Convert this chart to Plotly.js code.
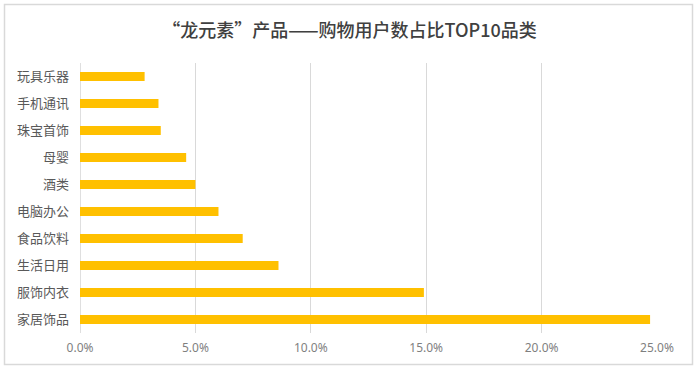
<!DOCTYPE html>
<html>
<head>
<meta charset="utf-8">
<script src="https://cdn.plot.ly/plotly-3.0.1.min.js"></script>
<style>
html,body{margin:0;padding:0;background:#fff;}
#chart{width:699px;height:370px;}
</style>
</head>
<body>
<div id="chart"></div>
<script>
const categories = ["家居饰品","服饰内衣","生活日用","食品饮料","电脑办公","酒类","母婴","珠宝首饰","手机通讯","玩具乐器"];
const shares = [0.247, 0.149, 0.086, 0.0705, 0.060, 0.050, 0.046, 0.035, 0.034, 0.028];
const tickValues = [0, 0.05, 0.10, 0.15, 0.20, 0.25];
const tickLabels = ["0.0%","5.0%","10.0%","15.0%","20.0%","25.0%"];
const titleText = "“龙元素”产品——购物用户数占比TOP10品类";

const W = 699, H = 370;
const m = {l: 80, r: 42, t: 63, b: 37};
const pw = W - m.l - m.r, ph = H - m.t - m.b;
const px = x => (x - m.l) / pw;
const py = y => 1 - (y - m.t) / ph;

const trace = {
  type: "bar",
  orientation: "h",
  y: categories,
  x: shares,
  width: 0.34,
  marker: {color: "#FFC000", line: {width: 0}},
  hoverinfo: "none"
};

const layout = {
  width: W, height: H,
  margin: m,
  paper_bgcolor: "#fff",
  plot_bgcolor: "#fff",
  showlegend: false,
  font: {family: "Noto Sans CJK SC, sans-serif", color: "#595959"},
  title: {
    text: titleText,
    font: {size: 18, color: "#404040", family: "Noto Sans CJK SC, sans-serif", weight: 500},
    x: 0.5, xref: "container", xanchor: "center",
    y: 1 - 31 / H, yref: "container", yanchor: "middle"
  },
  xaxis: {
    range: [0, 0.25],
    tickvals: tickValues,
    ticktext: tickLabels,
    showgrid: true,
    gridcolor: "#d9d9d9",
    gridwidth: 1,
    zeroline: false,
    showline: false,
    ticks: "",
    tickfont: {size: 12, color: "#7f7f7f", family: "Noto Sans, sans-serif"},
    ticklabelstandoff: 6,
    fixedrange: true
  },
  yaxis: {
    categoryorder: "array",
    categoryarray: categories,
    showgrid: false,
    zeroline: false,
    showline: false,
    ticks: "",
    ticklabelstandoff: 10,
    tickfont: {size: 13, color: "#595959", family: "Noto Sans CJK SC, sans-serif"},
    fixedrange: true
  },
  shapes: [
    {type: "line", xref: "x", yref: "paper", x0: 0, x1: 0, y0: 0, y1: 1,
     line: {color: "#bfbfbf", width: 1}, layer: "below"},
    {type: "rect", xref: "paper", yref: "paper",
     x0: px(4.5), x1: px(692.5), y0: py(4.5), y1: py(364.5),
     line: {color: "#d9d9d9", width: 1.5}, fillcolor: "rgba(0,0,0,0)"}
  ],
  bargap: 0.66
};

Plotly.newPlot("chart", [trace], layout, {displayModeBar: false, staticPlot: true});
</script>
</body>
</html>
